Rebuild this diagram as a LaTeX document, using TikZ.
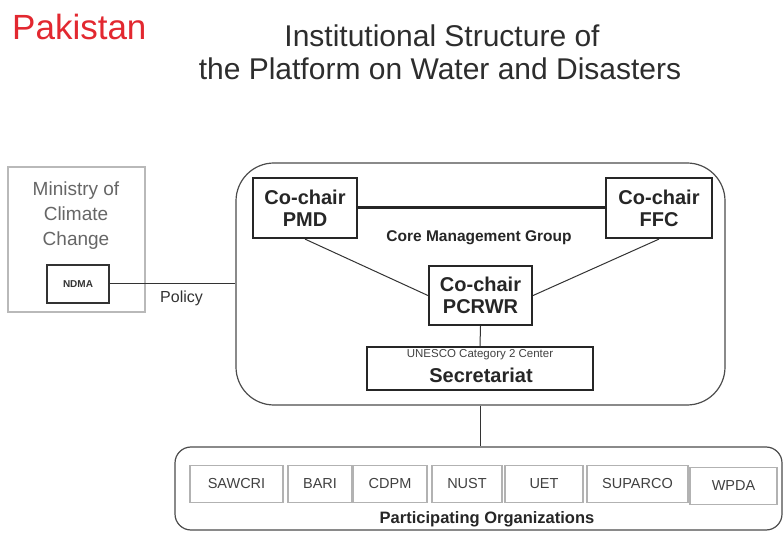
\documentclass[tikz,border=0pt]{standalone}
\usepackage{fontspec}
\setmainfont{Liberation Sans}
\definecolor{pkred}{RGB}{226,40,48}
\definecolor{titlegray}{RGB}{45,45,45}
\begin{document}
\begin{tikzpicture}[x=1pt,y=-1pt,
  chair/.style={draw=black!85, line width=2.2pt, inner sep=0pt, align=center,
    font=\fontsize{20}{22}\selectfont\bfseries, text=black!85},
  orgbox/.style={draw=gray!60, line width=1.6pt,
    inner sep=0pt, minimum height=37pt, font=\fontsize{14.5}{16}\selectfont, text=black!75},
  conn/.style={line width=1pt, draw=black!80},
  frame/.style={draw=black!70, line width=1.2pt, inner sep=0pt}]

\useasboundingbox (0,0) rectangle (784,534);

% titles
\node[anchor=base west, text=pkred, font=\fontsize{35}{40}\selectfont, inner sep=0pt] (pak) at (12,40) {Pakistan};
\node[anchor=base, text=titlegray, font=\fontsize{30}{34}\selectfont, inner sep=0pt] (t1) at (442,47) {Institutional Structure of};
\node[anchor=base, text=titlegray, font=\fontsize{30}{34}\selectfont, inner sep=0pt] (t2) at (440,80) {the Platform on Water and Disasters};

% ministry
\node[draw=gray!55, line width=1.8pt, minimum width=137pt, minimum height=145pt, inner sep=0pt] (mcc) at (76.5,239.5) {};
\node[align=center, text=black!60, font=\fontsize{19}{25}\selectfont, inner sep=0pt] (mcctext) at (76,216) {Ministry of\\Climate\\Change};
\node[draw=black!80, line width=1.2pt, minimum width=62pt, minimum height=38pt, inner sep=0pt,
  font=\fontsize{10}{12}\selectfont\bfseries, text=black!80] (ndma) at (78,284) {NDMA};

% core management group frame
\node[frame, rounded corners=38pt, minimum width=489pt, minimum height=242pt] (cmg) at (480.5,284) {};
\draw[conn] (ndma.east) -- (cmg.west);
\node[anchor=base west, font=\fontsize{16}{18}\selectfont, text=black!80, inner sep=0pt] (policy) at (160,303) {Policy};

\node[chair, minimum width=104pt, minimum height=60pt] (pmd) at (305,208) {Co-chair\\PMD};
\node[chair, minimum width=106pt, minimum height=60pt] (ffc) at (659,208) {Co-chair\\FFC};
\node[chair, minimum width=103pt, minimum height=59pt] (pcrwr) at (480.5,295.5) {Co-chair\\PCRWR};
\draw[line width=3pt, draw=black!85] (pmd.east) -- (ffc.west);
\draw[conn] (pmd.south) -- (pcrwr.west);
\draw[conn] (ffc.south) -- (pcrwr.east);
\node[font=\fontsize{15.5}{18}\selectfont\bfseries, text=black!85, inner sep=0pt] (cmglabel) at (479,238) {Core Management Group};

\node[draw=black!85, line width=1.8pt, minimum width=226pt, minimum height=43pt, inner sep=0pt] (sec) at (480,368.5) {};
\node[font=\fontsize{11.5}{13}\selectfont, text=black!75, inner sep=0pt] (unesco) at (480,355) {UNESCO Category 2 Center};
\node[font=\fontsize{20}{22}\selectfont\bfseries, text=black!85, inner sep=0pt] (secl) at (481,375) {Secretariat};
\draw[conn] (pcrwr.south) -- (sec.north);

% participating organizations
\node[frame, rounded corners=16pt, minimum width=607pt, minimum height=83pt] (porg) at (478.5,488.5) {};
\draw[conn] (cmg.south) -- (cmg.south |- porg.north);
\node[orgbox, minimum width=93pt] (sawcri) at (236.5,484) {SAWCRI};
\node[orgbox, minimum width=64pt] (bari) at (320,484) {BARI};
\node[orgbox, minimum width=74pt] (cdpm) at (390,484) {CDPM};
\node[orgbox, minimum width=70pt] (nust) at (467,484) {NUST};
\node[orgbox, minimum width=78pt] (uet) at (544,484) {UET};
\node[orgbox, minimum width=101pt] (suparco) at (637.5,484) {SUPARCO};
\node[orgbox, minimum width=87pt] (wpda) at (733.5,486) {WPDA};
\node[font=\fontsize{16.5}{18}\selectfont\bfseries, text=black!85, inner sep=0pt] (porglabel) at (487,519) {Participating Organizations};
\end{tikzpicture}
\end{document}
